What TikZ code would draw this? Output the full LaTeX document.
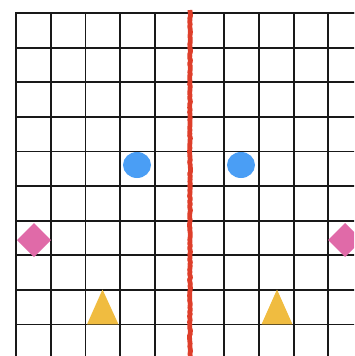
\documentclass[tikz,border=0pt]{standalone}
\usetikzlibrary{decorations.pathmorphing}
\definecolor{gridred}{RGB}{222,62,42}
\definecolor{dotblue}{RGB}{74,158,245}
\definecolor{diampink}{RGB}{224,106,168}
\definecolor{triyellow}{RGB}{240,188,64}
\tikzset{
  gridline/.style={black!90,line width=1.8pt},
  dot/.style={fill=dotblue,draw=none},
  diam/.style={fill=diampink,draw=none},
  tri/.style={fill=triyellow,draw=none},
  wall/.style={gridred,line width=4.8pt,line join=round,decorate,decoration={random steps,segment length=2pt,amplitude=0.5pt}}
}
\begin{document}
\begin{tikzpicture}[x=1pt,y=-1pt]
\useasboundingbox (0,0) rectangle (354,356);
\fill[white] (0,0) rectangle (354,356);
\begin{scope}
\clip (0,0) rectangle (354,356);
\foreach \i in {0,...,9} {
  \draw[gridline] ({16+34.7*\i},13) -- ({16+34.7*\i},360);
  \draw[gridline] (16,{13+34.6*\i}) -- (360,{13+34.6*\i});
}
\draw[gridline] (15.1,13) -- (360,13);
\draw[wall] (190,10) -- (190,358);
\fill[dot] (137,165) ellipse (14 and 13);
\fill[dot] (241,165) ellipse (14 and 13);
\fill[diam] (34,223) -- (51,240) -- (34,257) -- (17,240) -- cycle;
\fill[diam] (345,223) -- (362,240) -- (345,257) -- (328,240) -- cycle;
\fill[tri] (102.5,289.5) -- (118.5,324.4) -- (87,324.4) -- cycle;
\fill[tri] (277,289.5) -- (292.5,324.4) -- (261.5,324.4) -- cycle;
\end{scope}
\end{tikzpicture}
\end{document}
